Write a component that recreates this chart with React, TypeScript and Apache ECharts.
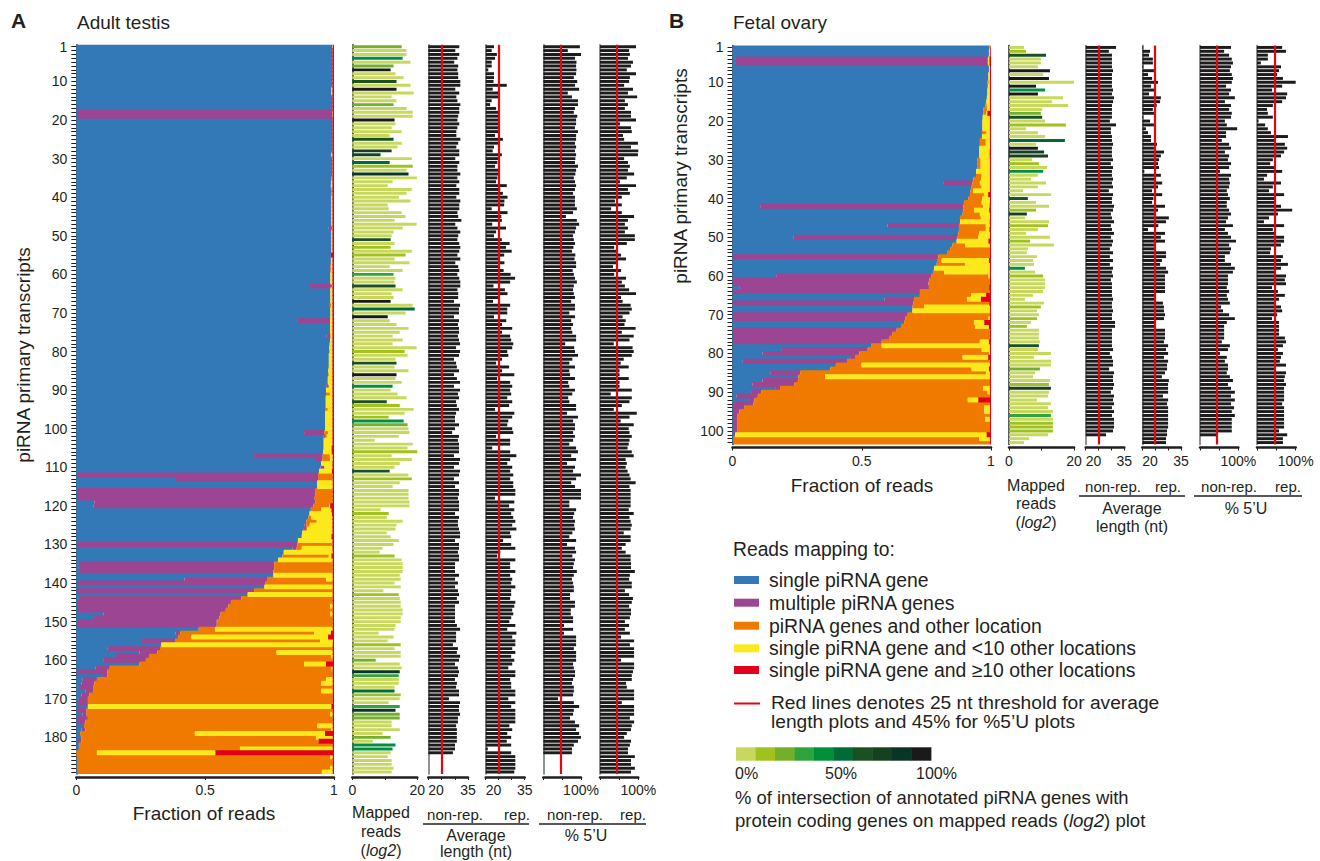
import React, { useEffect, useRef } from "react";
import * as echarts from "echarts";

const FONT = '"Liberation Sans", Arial, Helvetica, sans-serif';
const INK = "#231f20";
const C_BLUE = "#3479b7";
const C_PURPLE = "#9c4592";
const C_ORANGE = "#f07a00";
const C_YELLOW = "#fce91b";
const C_RED = "#e2001a";
const C_BAR = "#1c1c1c";
const C_THRESH = "#e30613";
const GREENS = ["#c8d85c", "#a0c21c", "#72b02a", "#2fa33c", "#008f3a", "#006b36", "#1b4f24", "#164120", "#0a3526", "#1a1a1a"];
const STACK_NAMES = ["single piRNA gene", "multiple piRNA genes", "piRNA genes and other location", "single piRNA gene and <10 other locations", "single piRNA gene and \u226510 other locations"];
const STACK_COLORS = [C_BLUE, C_PURPLE, C_ORANGE, C_YELLOW, C_RED];

// ---------------- Panel A: Adult testis (189 transcripts), fractions in % ----------------
const blueA = [
  99.3, 99.4, 99.4, 99.4, 99.4, 99.4, 99.4, 99.4, 99.4, 99.4,
  99.4, 99.0, 99.0, 99.4, 99.4, 99.4, 99.4, 0.5, 0.5, 99.4,
  99.4, 99.4, 99.4, 99.4, 99.4, 99.4, 99.4, 99.4, 99.0, 99.3,
  99.3, 99.3, 99.3, 99.3, 99.0, 99.0, 98.8, 99.0, 99.0, 99.0,
  99.0, 99.0, 99.0, 99.0, 99.0, 99.0, 99.0, 98.0, 99.0, 99.0,
  99.0, 99.0, 99.0, 99.0, 98.8, 98.8, 98.8, 98.6, 98.6, 98.6,
  98.6, 98.6, 90.7, 98.6, 98.6, 98.6, 98.6, 98.4, 98.6, 98.6,
  98.6, 86.0, 98.5, 98.5, 98.5, 97.2, 98.5, 98.2, 98.2, 98.1,
  98.0, 98.0, 98.0, 98.0, 97.8, 97.8, 97.6, 97.6, 97.0, 96.9,
  96.9, 96.8, 96.8, 96.8, 96.8, 96.6, 96.6, 96.6, 96.6, 96.5,
  88.4, 95.9, 96.0, 96.0, 96.0, 95.8, 69.0, 93.0, 95.0, 94.8,
  94.2, 0.3, 38.3, 93.5, 93.5, 0.3, 0.3, 0.3, 7.0, 6.6,
  91.0, 90.5, 90.0, 89.3, 88.5, 88.3, 87.7, 87.5, 86.0, 0.3,
  84.0, 80.5, 80.0, 78.3, 1.0, 1.0, 1.0, 76.5, 42.0, 0.3,
  73.0, 0.3, 66.5, 1.0, 0.5, 0.5, 0.5, 10.5, 6.5, 0.3,
  0.3, 47.5, 38.5, 39.5, 25.5, 33.0, 12.0, 24.5, 15.0, 10.7,
  24.5, 7.5, 0.3, 10.0, 2.5, 2.0, 1.0, 3.5, 2.0, 1.0,
  0.3, 4.5, 0.3, 2.5, 0.3, 0.3, 3.0, 2.0, 1.5, 2.0,
  0.3, 1.0, 1.0, 0, 0.3, 0.3, 0.3, 0.3, 0.3,
];
const purpleA = [
  0, 0, 0, 0, 0, 0, 0, 0, 0, 0,
  0, 0, 0, 0, 0, 0, 0, 98.9, 98.9, 0,
  0, 0, 0, 0, 0, 0, 0, 0, 0, 0,
  0, 0, 0, 0, 0, 0, 0, 0, 0, 0,
  0, 0, 0, 0, 0, 0, 0, 1.2, 0, 0,
  0, 0, 0, 0, 0, 0, 0, 0, 0, 0,
  0, 0, 8.5, 0, 0, 0, 0, 0, 0, 0,
  0, 12.5, 0, 0, 0, 1.5, 0, 0, 0, 0,
  0, 0, 0, 0, 0, 0, 0, 0, 1.0, 0,
  0, 0, 0, 0, 0, 0, 0, 0, 0, 0,
  7.8, 0.9, 0, 0, 0, 0, 26.6, 2.5, 0, 1.5,
  0, 93.5, 55.5, 0, 0, 92.6, 92.4, 92.2, 85.8, 85.4,
  0, 0, 0, 0, 0.8, 0.8, 0, 0, 0, 85.4,
  1.5, 0, 0, 0, 75.8, 75.8, 75.5, 0, 32.0, 73.2,
  0, 68.7, 0, 63.0, 59.5, 58.5, 57.5, 45.5, 49.0, 54.2,
  54.2, 0, 1.8, 0, 12.8, 0, 20.5, 7.0, 13.2, 16.3,
  0, 5.5, 11.7, 2.0, 5.5, 5.0, 5.5, 3.0, 3.0, 3.5,
  4.2, 0, 3.7, 1.5, 4.2, 3.2, 0, 1.5, 0, 0,
  1.7, 0, 0, 0, 0, 0, 0, 0, 0,
];
const orangeA = [
  0, 0, 0, 0, 0, 0, 0, 0, 0, 0,
  0, 0, 0, 0, 0, 0, 0, 0, 0, 0,
  0, 0, 0, 0, 0, 0, 0, 0, 0, 0,
  0, 0, 0, 0, 0.4, 0, 0, 0.4, 0.4, 0,
  0, 0, 0, 0, 0, 0, 0, 0, 0, 0,
  0, 0, 0, 0, 0, 0, 0, 0.4, 0.4, 0,
  0, 0, 0, 0, 0, 0, 0, 0.6, 0, 0,
  0, 0, 0, 0, 0, 0, 0, 0.4, 0, 0.3,
  0, 0, 0, 0, 0, 0.3, 0, 0, 0, 0,
  1.5, 0, 0, 0, 0.8, 0, 0, 0, 0, 0,
  1.5, 0.4, 0, 0, 0, 0, 2.8, 3.0, 0, 0,
  0, 5.7, 5.7, 0, 0, 6.6, 6.8, 7.0, 6.7, 6.2,
  4.0, 0, 1.2, 4.0, 1.3, 0.5, 0, 0, 0, 13.8,
  2.0, 0, 18.0, 0, 22.7, 22.7, 23.0, 0, 23.0, 26.0,
  0, 30.5, 0, 35.5, 39.5, 39.5, 41.5, 42.5, 44.0, 45.0,
  45.0, 6.3, 52.0, 5.2, 56.3, 0, 67.0, 46.2, 70.8, 72.5,
  63.9, 86.0, 87.5, 87.5, 89.0, 88.0, 93.0, 88.5, 94.5, 95.0,
  95.0, 0, 95.5, 94.5, 95.0, 96.0, 90.5, 95.5, 44.5, 91.0,
  92.0, 98.5, 62.5, 8.0, 98.2, 99.2, 99.2, 98.2, 95.0,
];
const yellowA = [
  0.2, 0, 0, 0, 0, 0, 0, 0, 0, 0,
  0, 0.4, 0.4, 0, 0, 0, 0, 0.1, 0.1, 0,
  0, 0, 0, 0, 0, 0, 0, 0, 0.4, 0.1,
  0.1, 0.1, 0.1, 0.1, 0, 0.4, 0.6, 0, 0, 0.4,
  0.4, 0.4, 0.4, 0.4, 0.4, 0.4, 0.4, 0.2, 0.4, 0.4,
  0.4, 0.4, 0.4, 0.4, 0, 0.6, 0.6, 0.4, 0.4, 0.8,
  0.8, 0.8, 0.2, 0.8, 0.8, 0.8, 0.8, 0.4, 0.8, 0.8,
  0.8, 0.9, 0.9, 0.9, 0.9, 0.7, 0.9, 0.8, 1.2, 1.0,
  1.4, 1.4, 1.4, 1.4, 1.6, 1.3, 1.8, 1.8, 1.4, 2.5,
  1.0, 2.6, 2.6, 2.6, 1.8, 2.8, 2.8, 2.8, 2.8, 2.9,
  1.7, 2.2, 3.4, 3.4, 3.1, 3.3, 1.1, 1.0, 4.4, 3.1,
  5.0, 0, 0, 6.0, 6.0, 0, 0, 0, 0, 0.3,
  4.0, 8.7, 8.2, 6.1, 8.8, 9.8, 11.7, 11.5, 13.4, 0,
  11.9, 19.0, 1.0, 21.2, 0, 0, 0, 23.0, 2.5, 0,
  26.5, 0, 33.0, 0, 0, 1.0, 0, 1.0, 0, 0,
  0, 45.7, 6.5, 53.0, 5.0, 66.5, 0, 21.8, 0.5, 0,
  8.5, 0.5, 0, 0, 2.5, 4.5, 0, 4.5, 0, 0,
  0, 94.5, 0, 1.0, 0, 0, 6.0, 0.5, 50.5, 6.5,
  0, 0, 36.0, 46.0, 1.0, 0, 0, 1.0, 4.2,
];
const redA = [
  0.5, 0.6, 0.6, 0.6, 0.6, 0.6, 0.6, 0.6, 0.6, 0.6,
  0.6, 0.6, 0.6, 0.6, 0.6, 0.6, 0.6, 0.5, 0.5, 0.6,
  0.6, 0.6, 0.6, 0.6, 0.6, 0.6, 0.6, 0.6, 0.6, 0.6,
  0.6, 0.6, 0.6, 0.6, 0.6, 0.6, 0.6, 0.6, 0.6, 0.6,
  0.6, 0.6, 0.6, 0.6, 0.6, 0.6, 0.6, 0.6, 0.6, 0.6,
  0.6, 0.6, 0.6, 0.6, 1.2, 0.6, 0.6, 0.6, 0.6, 0.6,
  0.6, 0.6, 0.6, 0.6, 0.6, 0.6, 0.6, 0.6, 0.6, 0.6,
  0.6, 0.6, 0.6, 0.6, 0.6, 0.6, 0.6, 0.6, 0.6, 0.6,
  0.6, 0.6, 0.6, 0.6, 0.6, 0.6, 0.6, 0.6, 0.6, 0.6,
  0.6, 0.6, 0.6, 0.6, 0.6, 0.6, 0.6, 0.6, 0.6, 0.6,
  0.6, 0.6, 0.6, 0.6, 0.9, 0.9, 0.5, 0.5, 0.6, 0.6,
  0.8, 0.5, 0.5, 0.5, 0.5, 0.5, 0.5, 0.5, 0.5, 1.5,
  1.0, 0.8, 0.6, 0.6, 0.6, 0.6, 0.6, 1.0, 0.6, 0.5,
  0.6, 0.5, 1.0, 0.5, 0.5, 0.5, 0.5, 0.5, 0.5, 0.5,
  0.5, 0.5, 0.5, 0.5, 0.5, 0.5, 0.5, 0.5, 0.5, 0.5,
  0.5, 0.5, 1.2, 2.3, 0.4, 0.5, 0.5, 0.5, 0.5, 0.5,
  3.1, 0.5, 0.5, 0.5, 0.5, 0.5, 0.5, 0.5, 0.5, 0.5,
  0.5, 1.0, 0.5, 0.5, 0.5, 0.5, 0.5, 0.5, 3.5, 0.5,
  6.0, 0.5, 0.5, 46.0, 0.5, 0.5, 0.5, 0.5, 0.5,
];
// mapped reads (log2) and colour class (index into GREENS: % intersection with protein coding genes)
const mappedA = [
  15.2, 16.7, 16.7, 15.5, 17.9, 12.7, 11.8, 13.3, 15.8, 13.6,
  17.9, 13.6, 18.9, 12.1, 13.6, 12.7, 16.7, 18.6, 18.6, 13.0,
  13.3, 12.1, 15.2, 11.5, 12.7, 15.2, 13.9, 12.1, 8.7, 18.3,
  11.5, 18.6, 16.7, 17.3, 19.9, 12.4, 10.9, 18.3, 16.7, 14.3,
  17.9, 10.9, 11.2, 15.2, 16.4, 13.0, 19.8, 15.5, 12.7, 12.1,
  11.8, 13.0, 11.8, 18.3, 16.4, 13.0, 17.6, 11.5, 15.5, 12.7,
  13.3, 13.0, 13.3, 15.5, 12.1, 12.7, 11.8, 18.6, 19.2, 16.4,
  10.9, 11.5, 13.6, 17.3, 14.6, 12.4, 15.5, 12.4, 19.8, 16.1,
  17.0, 13.3, 13.6, 13.0, 17.3, 13.6, 13.3, 15.2, 12.4, 11.8,
  13.9, 16.7, 10.6, 14.6, 18.9, 16.1, 11.2, 15.8, 17.0, 17.3,
  17.6, 14.3, 6.9, 18.6, 17.0, 20.0, 12.1, 18.3, 14.6, 13.0,
  11.5, 17.3, 18.3, 14.6, 12.4, 17.3, 17.3, 17.3, 17.6, 17.6,
  8.7, 11.2, 10.6, 15.5, 13.6, 13.3, 10.6, 11.8, 14.3, 12.7,
  9.3, 8.4, 13.0, 15.2, 15.5, 15.5, 15.5, 14.6, 14.9, 13.0,
  14.9, 9.6, 14.3, 14.6, 14.9, 14.9, 15.5, 15.5, 14.9, 14.9,
  13.3, 13.0, 8.1, 12.7, 10.9, 14.9, 13.0, 14.9, 14.9, 7.2,
  14.6, 15.2, 14.6, 14.3, 14.3, 14.3, 13.0, 13.0, 14.9, 14.6,
  11.2, 14.6, 13.3, 14.6, 14.6, 12.1, 12.1, 14.6, 9.3, 11.8,
  6.3, 13.3, 12.4, 11.8, 10.9, 12.1, 12.1, 12.7, 12.1,
];
const mapColA = [
  2, 0, 0, 4, 0, 2, 9, 0, 0, 6,
  0, 9, 0, 0, 0, 2, 0, 0, 0, 9,
  0, 0, 0, 0, 6, 0, 0, 7, 7, 0,
  5, 1, 0, 8, 0, 0, 0, 0, 0, 0,
  0, 0, 0, 0, 0, 0, 0, 0, 0, 0,
  6, 0, 1, 0, 1, 0, 0, 0, 0, 3,
  0, 0, 6, 0, 0, 0, 9, 0, 5, 0,
  9, 0, 0, 0, 0, 0, 0, 0, 0, 1,
  0, 0, 6, 0, 0, 9, 0, 0, 4, 0,
  0, 0, 6, 1, 0, 0, 1, 4, 2, 0,
  0, 0, 0, 0, 0, 1, 0, 0, 0, 0,
  6, 0, 1, 0, 0, 0, 0, 0, 0, 0,
  0, 1, 0, 0, 0, 0, 0, 0, 0, 0,
  0, 0, 1, 0, 0, 0, 0, 0, 0, 0,
  0, 0, 1, 0, 0, 0, 0, 0, 0, 0,
  0, 0, 0, 0, 0, 1, 0, 0, 0, 2,
  0, 0, 8, 3, 0, 0, 0, 5, 1, 0,
  0, 3, 8, 2, 2, 0, 0, 0, 0, 2,
  0, 4, 4, 0, 0, 0, 0, 0, 0,
];
const avgNonRepA = [
  31.7, 30.2, 31.7, 31.0, 29.8, 31.3, 31.0, 31.3, 31.3, 32.1,
  32.1, 30.2, 31.7, 30.6, 31.0, 32.1, 31.7, 31.7, 31.3, 31.0,
  31.7, 31.0, 30.6, 30.6, 32.1, 31.3, 30.6, 31.7, 31.7, 30.2,
  31.7, 31.0, 31.0, 32.1, 31.0, 31.7, 30.6, 31.7, 31.7, 30.6,
  32.1, 31.7, 31.7, 31.0, 31.3, 32.5, 30.2, 31.0, 32.1, 31.3,
  31.0, 31.7, 32.1, 31.7, 31.0, 32.1, 30.2, 31.3, 31.7, 31.0,
  31.7, 32.1, 32.1, 31.0, 31.3, 31.3, 29.7, 32.0, 31.6, 31.6,
  29.7, 31.6, 31.2, 31.6, 31.6, 31.2, 31.6, 32.0, 30.5, 32.0,
  31.6, 29.7, 30.5, 30.8, 31.6, 29.7, 30.8, 32.0, 29.7, 32.0,
  31.2, 31.6, 30.5, 30.8, 31.6, 30.5, 30.1, 30.1, 31.6, 30.1,
  29.0, 31.6, 31.2, 31.6, 31.6, 31.6, 29.7, 32.0, 31.6, 29.7,
  32.0, 31.6, 29.7, 31.6, 30.1, 31.6, 31.6, 31.2, 31.6, 31.6,
  31.6, 30.1, 31.6, 31.2, 31.2, 31.6, 32.0, 32.0, 30.1, 31.6,
  31.6, 31.2, 31.6, 31.6, 30.1, 30.1, 30.1, 31.6, 30.1, 31.2,
  30.1, 31.2, 31.6, 30.8, 31.6, 30.1, 30.1, 30.1, 30.1, 30.1,
  30.8, 32.0, 30.5, 30.5, 30.5, 29.3, 31.2, 30.8, 32.0, 31.6,
  30.1, 31.2, 31.6, 31.2, 30.1, 30.8, 30.5, 31.6, 31.6, 27.8,
  32.0, 31.6, 31.6, 32.0, 31.2, 31.2, 30.5, 30.8, 30.8, 30.8,
  30.8, 30.1, 30.1, 29.3, null, null, null, null, null,
];
const avgRepA = [
  23.2, 22.3, 24.3, 23.6, 22.3, 22.3, 21.0, 23.2, 23.2, 23.0,
  28.1, 22.7, 24.9, 24.9, 22.3, 21.7, 24.0, 25.2, 25.2, 24.8,
  25.0, 25.3, 24.8, 23.6, 26.6, 25.2, 23.2, 22.7, 26.2, 25.2,
  24.5, 23.6, 25.2, 25.0, 24.5, 24.0, 28.1, 25.6, 26.6, 28.4,
  27.2, 27.1, 22.3, 28.4, 26.0, 26.2, 22.5, 27.8, 24.0, 23.2,
  26.2, 29.2, 27.8, 30.0, 27.1, 24.9, 27.2, 25.2, 26.9, 29.6,
  31.3, 29.4, 23.0, 27.4, 28.4, 24.8, 22.8, 29.4, 28.3, 28.3,
  23.2, 27.9, 26.3, 30.2, 26.3, 29.4, 29.8, 30.6, 30.2, 28.3,
  28.7, 26.3, 24.0, 29.0, 26.3, 31.0, 24.4, 29.4, 30.2, 29.4,
  29.8, 28.3, 30.2, 29.0, 23.6, 31.0, 30.2, 28.7, 28.3, 30.2,
  30.6, 24.0, 29.4, 29.4, 22.5, 29.4, 31.8, 29.4, 28.3, 30.2,
  29.4, 30.6, 29.4, 30.6, 30.6, 31.4, 31.4, 23.6, 31.0, 29.0,
  31.0, 29.8, 30.6, 31.4, 30.2, 31.8, 29.4, 29.8, 26.7, 29.8,
  31.4, 25.6, 24.4, 31.4, 29.4, 29.4, 31.4, 29.4, 30.2, 29.8,
  31.4, 29.8, 29.8, 29.4, 31.4, 31.0, 30.2, 30.6, 29.8, 29.1,
  31.4, 28.3, 31.8, 30.2, 31.4, 31.4, 30.2, 31.4, 29.8, 31.0,
  30.2, 28.7, 31.4, 31.4, 29.4, 29.8, 29.8, 31.4, 31.4, 28.7,
  31.4, 29.8, 31.4, 31.4, 31.4, 31.4, 29.1, 30.2, 28.3, 29.8,
  28.1, 29.8, 20.8, 29.8, 31.4, 31.4, 31.4, 31.4, 31.0,
];
const u5NonRepA = [
  97, 65, 100, 84, 88, 87, 88, 87, 81, 90,
  84, 95, 65, 76, 92, 92, 84, 81, 90, 87,
  87, 84, 92, 87, 87, 84, 87, 84, 87, 85,
  84, 92, 87, 85, 81, 84, 87, 84, 79, 84,
  84, 84, 89, 79, 60, 89, 95, 87, 84, 79,
  81, 84, 80, 76, 85, 83, 87, 87, 78, 81,
  84, 89, 81, 79, 81, 84, 74, 84, 84, 69,
  84, 74, 79, 74, 77, 87, 87, 58, 82, 84,
  92, 77, 69, 84, 69, 71, 84, 66, 69, 84,
  77, 66, 69, 87, 87, 63, 92, 79, 84, 84,
  79, 84, 79, 69, 87, 92, 74, 87, 63, 84,
  79, 100, 87, 74, 84, 100, 100, 100, 69, 69,
  87, 82, 79, 84, 82, 84, 77, 69, 87, 63,
  84, 87, 77, 84, 81, 79, 89, 81, 76, 79,
  81, 81, 71, 71, 84, 84, 73, 73, 79, 79,
  55, 79, 55, 87, 87, 87, 81, 87, 87, 87,
  79, 81, 84, 84, 79, 76, 81, 81, 79, 39,
  81, 95, 81, 79, 71, 84, 95, 87, 95, 100,
  92, 81, 76, 76, null, null, null, null, null,
];
const u5RepA = [
  94, 76, 78, 73, 86, 81, 70, 94, 78, 76,
  63, 86, 73, 97, 65, 73, 65, 81, 81, 94,
  52, 81, 83, 60, 63, 99, 81, 100, 99, 63,
  73, 78, 73, 89, 70, 52, 94, 73, 78, 57,
  39, 57, 29, 57, 89, 73, 65, 73, 65, 91,
  91, 70, 37, 44, 55, 68, 47, 34, 55, 37,
  68, 57, 65, 76, 94, 55, 59, 80, 83, 77,
  59, 67, 64, 93, 57, 88, 77, 36, 85, 88,
  83, 62, 54, 75, 51, 51, 75, 51, 51, 83,
  28, 83, 77, 57, 36, 96, 77, 54, 88, 75,
  77, 83, 77, 75, 72, 83, 88, 67, 70, 67,
  72, 77, 80, 93, 77, 80, 80, 80, 80, 80,
  75, 88, 77, 80, 83, 80, 62, 80, 80, 67,
  57, 67, 80, 80, 81, 81, 91, 78, 76, 83,
  83, 65, 76, 86, 83, 76, 81, 81, 78, 65,
  76, 65, 78, 55, 89, 78, 89, 89, 89, 55,
  89, 89, 86, 83, 83, 68, 70, 89, 89, 89,
  57, 89, 89, 89, 78, 89, 83, 81, 70, 63,
  81, 78, 73, 73, 91, 81, 81, 91, 81,
];

// ---------------- Panel B: Fetal ovary (103 transcripts) ----------------
const blueB = [
  99.4, 99.2, 99.2, 1.0, 1.0, 99.2, 99.2, 99.0, 99.0, 98.6,
  98.8, 98.6, 98.6, 98.4, 98.2, 97.8, 97.0, 97.0, 96.8, 96.7,
  96.7, 96.7, 96.5, 96.5, 95.7, 95.7, 95.5, 95.5, 95.5, 94.8,
  94.8, 94.8, 94.2, 94.2, 93.2, 81.5, 92.5, 92.1, 91.9, 91.2,
  89.6, 10.7, 89.3, 89.0, 88.0, 88.0, 60.0, 87.6, 87.3, 23.5,
  86.7, 85.1, 84.2, 83.0, 0.3, 79.4, 79.0, 78.0, 77.6, 16.9,
  0.3, 0.3, 2.6, 0.3, 72.5, 58.8, 0.3, 69.6, 69.6, 0.3,
  0.5, 66.4, 65.2, 0.3, 0.3, 0.3, 0.3, 53.6, 18.8, 11.7,
  45.5, 4.0, 40.0, 37.8, 14.6, 25.5, 11.6, 7.7, 16.5, 7.2,
  1.5, 6.4, 0.3, 0.5, 0.3, 0.3, 0.5, 0.3, 0.3, 0.3,
  1.0, 0.3, 0.3,
];
const purpleB = [
  0, 0, 0, 97.8, 97.8, 0, 0, 0, 0, 0,
  0, 0, 0, 0, 0, 0, 0, 0, 0, 0,
  0, 0, 0, 0, 0, 0, 0, 0, 0, 0,
  0, 0, 0, 0, 0, 11.3, 0, 0, 0, 0,
  0, 78.6, 0, 0, 0, 0, 27.6, 0, 0, 63.6,
  0, 0, 0, 0, 79.3, 0, 0, 0, 0, 59.9,
  75.9, 75.5, 73.4, 72.2, 0, 11.4, 69.7, 0, 0, 67.5,
  66.3, 0, 0, 63.2, 61.5, 60.5, 57.4, 0, 33.5, 37.3,
  1.9, 40.3, 0, 0, 11.6, 0, 13.7, 16.3, 1.9, 3.9,
  8.3, 2.1, 7.7, 4.0, 2.3, 1.7, 1.3, 1.5, 1.5, 1.5,
  0, 0, 0,
];
const orangeB = [
  0.6, 0, 0, 0, 0, 0, 0, 0, 0, 0.6,
  0, 0, 0, 0, 0, 0.6, 1.5, 1.2, 0, 0,
  0, 0, 1.8, 0, 2.3, 2.3, 0, 0, 0, 1.2,
  1.2, 1.2, 0, 2.2, 3.0, 2.9, 3.9, 1.0, 5.4, 5.5,
  6.8, 7.7, 4.1, 6.7, 8.1, 0, 10.4, 10.4, 8.1, 8.0,
  0, 4.9, 15.4, 16.6, 20.0, 1.5, 11.0, 0, 4.3, 22.2,
  23.4, 23.8, 23.3, 27.1, 19.8, 20.5, 29.3, 4.5, 0, 31.8,
  32.2, 27.0, 28.6, 36.1, 37.8, 38.8, 38.0, 4.1, 44.1, 50.2,
  41.6, 55.3, 9.9, 54.7, 71.9, 10.3, 74.3, 75.6, 78.5, 87.6,
  89.8, 82.5, 91.6, 92.9, 94.8, 97.6, 95.9, 97.8, 97.8, 97.8,
  0, 95.1, 99.3,
];
const yellowB = [
  0, 0.5, 0.5, 0.6, 0.6, 0.4, 0.4, 0.6, 0.6, 0.4,
  0.8, 1.0, 1.0, 1.2, 1.4, 1.2, 1.1, 0.4, 2.8, 2.9,
  2.9, 2.9, 1.3, 3.1, 1.6, 1.6, 4.1, 4.0, 4.0, 3.6,
  3.6, 3.6, 5.4, 3.2, 3.4, 3.9, 3.2, 6.5, 1.6, 2.9,
  3.2, 2.5, 5.9, 3.9, 3.5, 11.5, 1.6, 1.4, 4.2, 4.5,
  12.3, 9.6, 0, 0, 0, 18.3, 9.6, 21.6, 17.7, 0.6,
  0, 0, 0, 0, 5.8, 5.4, 0, 25.5, 30.0, 0,
  0.6, 4.0, 5.4, 0, 0, 0, 3.5, 41.9, 3.2, 0.4,
  9.9, 0, 49.7, 6.7, 1.5, 63.8, 0, 0, 2.7, 0.9,
  0, 4.1, 0, 2.2, 2.2, 0, 1.9, 0, 0, 0,
  97.3, 4.2, 0,
];
const redB = [
  0, 0.3, 0.3, 0.6, 0.6, 0.4, 0.4, 0.4, 0.4, 0.4,
  0.4, 0.4, 0.4, 0.4, 0.4, 0.4, 0.4, 1.4, 0.4, 0.4,
  0.4, 0.4, 0.4, 0.4, 0.4, 0.4, 0.4, 0.5, 0.5, 0.4,
  0.4, 0.4, 0.4, 0.4, 0.4, 0.4, 0.4, 0.4, 1.1, 0.4,
  0.4, 0.5, 0.7, 0.4, 0.4, 0.5, 0.4, 0.6, 0.4, 0.4,
  1.0, 0.4, 0.4, 0.4, 0.4, 0.8, 0.4, 0.4, 0.4, 0.4,
  0.4, 0.4, 0.7, 0.4, 1.9, 3.9, 0.7, 0.4, 0.4, 0.4,
  0.4, 2.6, 0.8, 0.4, 0.4, 0.4, 0.8, 0.4, 0.4, 0.4,
  1.1, 0.4, 0.4, 0.8, 0.4, 0.4, 0.4, 0.4, 0.4, 0.4,
  0.4, 4.9, 0.4, 0.4, 0.4, 0.4, 0.4, 0.4, 0.4, 0.4,
  1.7, 0.4, 0.4,
];
const mappedB = [
  4.6, 5.2, 11.4, 9.8, 9.8, 8.9, 12.6, 10.5, 12.3, 20.0,
  8.3, 11.1, 8.9, 16.6, 13.2, 18.2, 10.2, 9.8, 10.2, 11.1,
  17.5, 5.2, 8.9, 11.1, 17.2, 8.3, 8.9, 10.8, 12.0, 7.1,
  9.2, 11.7, 10.5, 8.9, 6.8, 11.4, 8.9, 4.3, 12.9, 5.8,
  8.3, 12.3, 8.3, 5.5, 4.9, 12.3, 12.0, 8.9, 5.2, 12.6,
  6.5, 13.8, 5.8, 5.5, 8.6, 7.4, 7.7, 4.9, 8.0, 10.5,
  11.1, 11.1, 11.1, 10.5, 7.4, 4.9, 10.8, 9.8, 8.6, 9.2,
  8.6, 6.8, 5.5, 9.2, 9.2, 9.2, 9.5, 9.2, 8.9, 12.9,
  7.7, 12.9, 12.9, 9.5, 8.0, 7.4, 12.6, 12.3, 12.9, 12.3,
  12.0, 8.6, 12.9, 12.0, 13.5, 12.9, 13.5, 13.5, 13.5, 13.5,
  12.0, 6.2, 4.6,
];
const mapColB = [
  0, 1, 6, 0, 0, 0, 9, 0, 9, 0,
  9, 4, 9, 0, 0, 0, 0, 2, 6, 0,
  1, 0, 0, 0, 5, 0, 9, 7, 7, 0,
  1, 0, 4, 0, 0, 0, 0, 0, 0, 6,
  0, 0, 1, 7, 0, 0, 1, 0, 0, 0,
  1, 0, 0, 0, 0, 0, 0, 4, 0, 1,
  0, 0, 0, 0, 0, 0, 0, 1, 0, 0,
  1, 0, 1, 0, 0, 0, 0, 6, 0, 0,
  0, 0, 0, 2, 0, 0, 0, 1, 7, 0,
  0, 0, 0, 0, 0, 3, 0, 1, 1, 1,
  0, 0, 0,
];
const avgNonRepB = [
  31.8, 29.0, 30.2, 30.2, 30.2, 30.2, 30.6, 30.2, 30.2, 30.2,
  30.2, 30.6, 30.2, 31.0, 30.6, 30.2, 30.2, 30.2, 30.2, 29.4,
  31.8, 29.8, 29.8, 30.2, 30.2, 30.6, 30.2, 30.2, 30.2, 30.6,
  29.8, 30.6, 30.2, 30.2, 30.6, 30.2, 30.6, 29.0, 30.6, 30.2,
  30.2, 31.0, 30.6, 29.8, 30.2, 31.0, 29.8, 30.2, 31.0, 29.8,
  30.6, 30.2, 29.4, 30.6, 29.4, 30.6, 29.4, 30.6, 30.2, 30.6,
  29.8, 30.2, 30.2, 30.2, 30.2, 30.6, 30.2, 30.2, 30.6, 30.2,
  30.2, 31.4, 31.4, 30.2, 30.2, 30.2, 30.2, 30.2, 30.6, 29.4,
  30.2, 30.6, 30.6, 29.1, 31.0, 30.6, 30.6, 31.0, 30.6, 29.8,
  31.0, 30.6, 31.0, 30.2, 31.0, 30.2, 31.0, 31.0, 31.0, 30.6,
  27.9, null, null,
];
const avgRepB = [
  20.3, 23.0, 22.6, 24.1, 24.1, 20.4, 24.5, 22.2, 23.8, 26.1,
  23.4, 24.9, 22.6, 27.2, 26.9, 25.6, 24.1, 24.5, 20.4, 23.0,
  24.5, 21.4, 22.2, 23.4, 23.4, 25.7, 24.5, 28.4, 27.2, 26.5,
  26.1, 26.5, 20.8, 27.2, 24.9, 27.7, 26.1, 23.8, 27.7, 24.3,
  23.8, 28.8, 26.1, 24.9, 30.3, 29.2, 26.2, 22.2, 28.8, 27.2,
  28.8, 24.5, 24.9, 29.2, 29.2, 27.6, 26.9, 29.2, 30.0, 28.8,
  28.8, 28.8, 28.8, 28.8, 24.9, 24.9, 28.0, 28.4, 28.4, 28.8,
  28.4, 24.9, 24.9, 28.8, 28.8, 28.8, 28.4, 30.0, 29.2, 30.0,
  28.4, 30.0, 29.6, 29.6, 28.8, 27.6, 30.3, 30.0, 30.0, 30.0,
  28.0, 30.0, 29.6, 30.0, 30.0, 30.0, 30.0, 30.0, 30.0, 29.6,
  29.6, 29.2, 29.2,
];
const u5NonRepB = [
  81, 63, 76, 83, 86, 81, 78, 83, 86, 83,
  68, 81, 76, 91, 65, 81, 76, 83, 81, 65,
  70, 97, 68, 68, 57, 76, 81, 65, 76, 73,
  81, 76, 52, 81, 76, 78, 76, 70, 73, 78,
  70, 70, 76, 81, 73, 68, 86, 65, 73, 81,
  94, 76, 81, 78, 65, 65, 81, 91, 86, 73,
  73, 73, 70, 76, 70, 73, 78, 55, 60, 76,
  91, 70, 63, 63, 63, 63, 57, 78, 73, 52,
  70, 65, 73, 73, 70, 78, 86, 73, 81, 91,
  81, 91, 81, 89, 83, 91, 83, 83, 83, 83,
  42, null, null,
];
const u5RepB = [
  65, 75, 28, 28, 10, 62, 57, 52, 67, 100,
  65, 39, 78, 75, 65, 41, 26, 28, 41, 4,
  21, 28, 36, 80, 47, 72, 78, 70, 62, 41,
  34, 47, 65, 26, 18, 62, 41, 31, 70, 49,
  49, 62, 91, 54, 31, 18, 70, 41, 44, 70,
  70, 62, 36, 34, 67, 62, 80, 62, 49, 75,
  72, 75, 39, 54, 72, 57, 49, 62, 65, 52,
  39, 57, 57, 57, 57, 72, 75, 67, 54, 67,
  62, 59, 75, 49, 75, 72, 70, 75, 70, 70,
  70, 70, 65, 70, 70, 70, 70, 70, 70, 57,
  78, 67, 67,
];

// axis ticks / thresholds
const FRACTION_TICKS = [0, 0.5, 1];
const LENGTH_THRESHOLD = 25;
const U5_THRESHOLD = 45;
const SCALE_LABELS = ["0%", "50%", "100%"];

type Panel = {
  top: number;
  height: number;
  mainLeft: number;
  mainWidth: number;
  sides: { left: number; width: number }[];
  stack: number[][];
  mapped: number[];
  mapCol: number[];
  avgN: (number | null)[];
  avgR: (number | null)[];
  uN: (number | null)[];
  uR: (number | null)[];
};

function buildPanel(o: any, p: Panel) {
  const base = o.grid.length;
  const rows = p.mapped.map((_, i) => String(i + 1));
  const rowH = p.height / rows.length;
  const axisFont = { fontFamily: FONT, color: INK };

  // main stacked panel
  o.grid.push({ left: p.mainLeft, top: p.top, width: p.mainWidth, height: p.height });
  o.yAxis.push({
    gridIndex: base, type: "category", inverse: true, data: rows,
    axisLine: { show: true, lineStyle: { color: INK, width: 1.5 } },
    axisTick: { show: true, interval: 0, alignWithLabel: true, length: 5, lineStyle: { color: INK, width: 1 } },
    axisLabel: { ...axisFont, fontSize: 14, margin: 9, interval: (i: number) => i === 0 || (i + 1) % 10 === 0 },
    splitLine: { show: false },
  });
  o.xAxis.push({
    gridIndex: base, type: "value", min: FRACTION_TICKS[0], max: FRACTION_TICKS[2], interval: 0.5, offset: 3,
    axisLine: { show: true, lineStyle: { color: INK, width: 2.5 } },
    axisTick: { show: true, length: 3, lineStyle: { color: INK } },
    axisLabel: { ...axisFont, fontSize: 14, margin: 6, formatter: (v: number) => String(v) },
    splitLine: { show: false },
  });
  p.stack.forEach((arr, k) => {
    o.series.push({
      type: "bar", name: STACK_NAMES[k], stack: "main" + base, xAxisIndex: base, yAxisIndex: base,
      data: arr.map((v) => v / 100), barWidth: rowH + 1.1, itemStyle: { color: STACK_COLORS[k] }, silent: true,
    });
  });

  const sideDefs = [
    { min: 0, max: 20, interval: 10, fmt: (v: number) => (v === 10 ? "" : String(v)), data: p.mapped.map((v, i) => ({ value: v, itemStyle: { color: GREENS[p.mapCol[i]] } })), thr: null, alignMin: "center" },
    { min: 20, max: 35, interval: 5, fmt: (v: number) => (v === 20 || v === 35 ? String(v) : ""), data: p.avgN, thr: LENGTH_THRESHOLD, alignMin: "left" },
    { min: 20, max: 35, interval: 5, fmt: (v: number) => (v === 20 || v === 35 ? String(v) : ""), data: p.avgR, thr: LENGTH_THRESHOLD, alignMin: "left" },
    { min: 0, max: 100, interval: 50, fmt: (v: number) => (v === 100 ? "100%" : ""), data: p.uN, thr: U5_THRESHOLD, alignMin: "center" },
    { min: 0, max: 100, interval: 50, fmt: (v: number) => (v === 100 ? "100%" : ""), data: p.uR, thr: U5_THRESHOLD, alignMin: "center" },
  ];
  sideDefs.forEach((d, s) => {
    const gi = base + 1 + s;
    o.grid.push({ left: p.sides[s].left, top: p.top, width: p.sides[s].width, height: p.height });
    o.yAxis.push({
      gridIndex: gi, type: "category", inverse: true, data: rows,
      axisLine: { show: true, lineStyle: { color: s === 0 ? "#333" : "#777", width: 1.6 } },
      axisTick: { show: false }, axisLabel: { show: false }, splitLine: { show: false },
    });
    o.xAxis.push({
      gridIndex: gi, type: "value", min: d.min, max: d.max, interval: d.interval, offset: 3,
      axisLine: { show: true, lineStyle: { color: INK, width: 2.5 } },
      axisTick: { show: true, length: 3, lineStyle: { color: INK } },
      axisLabel: { ...axisFont, fontSize: 14, margin: 6, formatter: d.fmt, showMinLabel: true, showMaxLabel: true, alignMinLabel: d.alignMin },
      splitLine: { show: false },
    });
    const ser: any = {
      type: "bar", xAxisIndex: gi, yAxisIndex: gi, data: d.data, barWidth: "76%",
      itemStyle: { color: C_BAR }, silent: true,
    };
    if (d.thr !== null) {
      ser.markLine = {
        silent: true, symbol: ["none", "none"], label: { show: false },
        lineStyle: { color: C_THRESH, width: 2.2, type: "solid" },
        data: [{ xAxis: d.thr }],
      };
    }
    o.series.push(ser);
  });
}

function txt(x: number, y: number, text: string, size: number, align = "left", extra: any = {}) {
  return {
    type: "text", x, y, silent: true, ...extra,
    style: { text, fontSize: size, fontFamily: FONT, fill: INK, align, verticalAlign: "middle", ...(extra.style || {}) },
  };
}
function hline(x1: number, x2: number, y: number, color = INK, w = 1.4) {
  return { type: "line", silent: true, shape: { x1, y1: y, x2, y2: y }, style: { stroke: color, lineWidth: w } };
}

function buildGraphics() {
  const g: any[] = [];
  const italic = { i: { fontStyle: "italic", fontFamily: FONT, fontSize: 16, fill: INK } };
  // Titles
  g.push(txt(11, 20, "A", 21, "left", { style: { fontWeight: "bold" } }));
  g.push(txt(77, 22, "Adult testis", 19));
  g.push(txt(669, 20, "B", 21, "left", { style: { fontWeight: "bold" } }));
  g.push(txt(733, 22, "Fetal ovary", 19));
  // y-axis titles
  g.push(txt(23, 355, "piRNA primary transcripts", 19, "center", { rotation: Math.PI / 2 }));
  g.push(txt(680, 176, "piRNA primary transcripts", 19, "center", { rotation: Math.PI / 2 }));
  // A bottom labels
  g.push(txt(204, 813, "Fraction of reads", 19, "center"));
  g.push(txt(381, 812, "Mapped", 16, "center"));
  g.push(txt(381, 831, "reads", 16, "center"));
  g.push(txt(381, 850, "({i|log2})", 16, "center", { style: { rich: italic } }));
  g.push(txt(455, 814, "non-rep.", 15, "center"));
  g.push(txt(517, 814, "rep.", 15, "center"));
  g.push(hline(423, 529, 824));
  g.push(txt(476, 835, "Average", 16, "center"));
  g.push(txt(476, 851, "length (nt)", 16, "center"));
  g.push(txt(575, 814, "non-rep.", 15, "center"));
  g.push(txt(633, 814, "rep.", 15, "center"));
  g.push(hline(539, 646, 824));
  g.push(txt(586, 835, "% 5\u2019U", 16, "center"));
  // B bottom labels
  g.push(txt(862, 485, "Fraction of reads", 19, "center"));
  g.push(txt(1036, 485, "Mapped", 16, "center"));
  g.push(txt(1036, 503, "reads", 16, "center"));
  g.push(txt(1036, 522, "({i|log2})", 16, "center", { style: { rich: italic } }));
  g.push(txt(1113, 486, "non-rep.", 15, "center"));
  g.push(txt(1168, 486, "rep.", 15, "center"));
  g.push(hline(1079, 1185, 496));
  g.push(txt(1132, 508, "Average", 16, "center"));
  g.push(txt(1132, 526, "length (nt)", 16, "center"));
  g.push(txt(1229, 486, "non-rep.", 15, "center"));
  g.push(txt(1288, 486, "rep.", 15, "center"));
  g.push(hline(1194, 1302, 496));
  g.push(txt(1246, 508, "% 5\u2019U", 16, "center"));

  // Legend
  g.push(txt(733, 549, "Reads mapping to:", 19.3));
  const ys = [580, 602.7, 625.7, 648.3, 670];
  STACK_NAMES.forEach((name, k) => {
    g.push({ type: "rect", silent: true, shape: { x: 734, y: ys[k] - 4, width: 25, height: 8 }, style: { fill: STACK_COLORS[k] } });
    g.push(txt(769, ys[k], name, 19.4));
  });
  g.push(hline(734, 760, 703.5, C_THRESH, 2));
  g.push(txt(771, 712, "Red lines denotes 25 nt threshold for average\nlength plots and 45% for %5\u2019U plots", 19.2, "left", {
    style: { lineHeight: 19.5 },
  }));
  GREENS.forEach((c, k) => {
    g.push({ type: "rect", silent: true, shape: { x: 736 + k * 19.5, y: 747.3, width: 19.9, height: 13.4 }, style: { fill: c } });
  });
  g.push(txt(735, 773, SCALE_LABELS[0], 16));
  g.push(txt(825, 773, SCALE_LABELS[1], 16));
  g.push(txt(916, 773, SCALE_LABELS[2], 16));
  g.push(txt(735, 797, "% of intersection of annotated piRNA genes with", 18.4));
  g.push(txt(735, 820, "protein coding genes on mapped reads ({i|log2}) plot", 18.6, "left", {
    style: { rich: { i: { fontStyle: "italic", fontFamily: FONT, fontSize: 18.6, fill: INK } } },
  }));
  return g;
}

export default function App() {
  const ref = useRef<HTMLDivElement>(null);
  useEffect(() => {
    document.body.style.margin = "0";
    const chart = echarts.init(ref.current!, null, { renderer: "svg" });
    const o: any = {
      animation: false,
      backgroundColor: "#ffffff",
      textStyle: { fontFamily: FONT },
      grid: [], xAxis: [], yAxis: [], series: [],
    };
    buildPanel(o, {
      top: 44.8, height: 729.2, mainLeft: 76.3, mainWidth: 257.7,
      sides: [
        { left: 352.3, width: 65 }, { left: 428.3, width: 39.7 }, { left: 485.7, width: 39 },
        { left: 543.3, width: 37.7 }, { left: 600, width: 38.3 },
      ],
      stack: [blueA, purpleA, orangeA, yellowA, redA],
      mapped: mappedA, mapCol: mapColA, avgN: avgNonRepA, avgR: avgRepA, uN: u5NonRepA, uR: u5RepA,
    });
    buildPanel(o, {
      top: 45.5, height: 399, mainLeft: 732.5, mainWidth: 258.5,
      sides: [
        { left: 1009, width: 65 }, { left: 1085.7, width: 38.6 }, { left: 1142.3, width: 38.7 },
        { left: 1200, width: 38.3 }, { left: 1257, width: 38.7 },
      ],
      stack: [blueB, purpleB, orangeB, yellowB, redB],
      mapped: mappedB, mapCol: mapColB, avgN: avgNonRepB, avgR: avgRepB, uN: u5NonRepB, uR: u5RepB,
    });
    o.graphic = buildGraphics();
    chart.setOption(o);
    return () => chart.dispose();
  }, []);
  return <div ref={ref} style={{ width: 1320, height: 861 }} />;
}
